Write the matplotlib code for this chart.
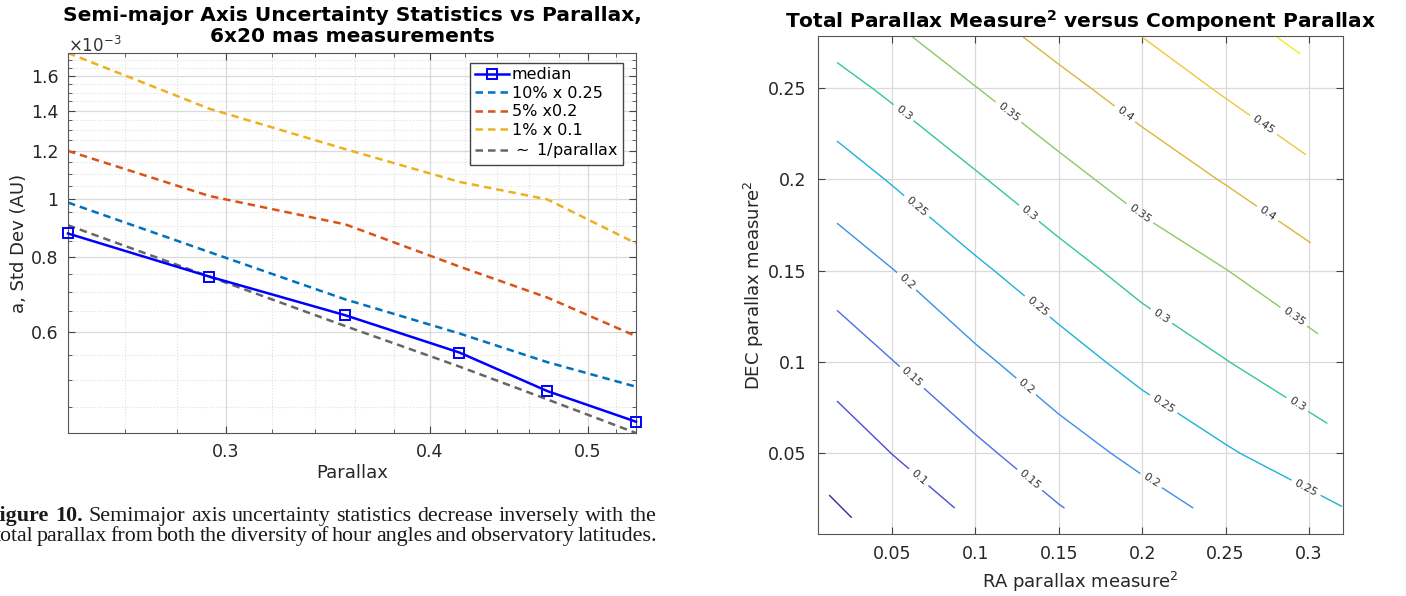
import numpy as np
import matplotlib.pyplot as plt
from matplotlib.ticker import FixedLocator, NullFormatter, FuncFormatter

# left panel: semi-major axis std dev, in units of 1e-3 AU
parallax = [0.240, 0.293, 0.355, 0.417, 0.472, 0.535]
median = [0.875, 0.742, 0.640, 0.555, 0.479, 0.426]
pct10 = [0.985, 0.815, 0.680, 0.597, 0.535, 0.487]
pct5 = [1.200, 1.010, 0.906, 0.771, 0.685, 0.591]
pct1 = [1.745, 1.410, 1.208, 1.066, 0.997, 0.843]
inv_parallax = [0.903, 0.742, 0.614, 0.526, 0.464, 0.408]
series_names = ['median', '10% x 0.25', '5% x0.2', '1% x 0.1', r'$\sim$ 1/parallax']
x_major = [0.3, 0.4, 0.5]
y_major = [0.6, 0.8, 1.0, 1.2, 1.4, 1.6]

# right panel: total parallax measure^2 on a grid of RA / DEC measure^2
ra_cols = [0.017, 0.05, 0.10, 0.15, 0.20, 0.25]
ra_right = [0.320, 0.313, 0.307, 0.302, 0.299, 0.296, 0.294]   # last column, per row
dec_rows = [0.020, 0.05, 0.10, 0.15, 0.20, 0.25, 0.278]
corner_node = (0.009, 0.011)                                   # lower-left grid node
total_sq = [
    [0.0350, 0.0715, 0.1094, 0.1478, 0.1801, 0.2126, 0.249],
    [0.0713, 0.1005, 0.1396, 0.1784, 0.2129, 0.2447, 0.283],
    [0.1214, 0.1487, 0.1898, 0.2287, 0.2664, 0.2984, 0.335],
    [0.1719, 0.1985, 0.2411, 0.2804, 0.3185, 0.3489, 0.3835],
    [0.2258, 0.2536, 0.2944, 0.3341, 0.3708, 0.4032, 0.4376],
    [0.2833, 0.3093, 0.3488, 0.3864, 0.4216, 0.4558, 0.4834],
    [0.3165, 0.3404, 0.3792, 0.4155, 0.4500, 0.4813, 0.508],
]
levels = [0.05, 0.10, 0.15, 0.20, 0.25, 0.30, 0.35, 0.40, 0.45, 0.50]
level_colors = ['#3b2699', '#4b4cd6', '#4a6fe6', '#3a90e4', '#1db2d6',
                '#36c4a2', '#8cc964', '#dcb53c', '#f2c53a', '#f4ea22']
ra_ticks = [0.05, 0.10, 0.15, 0.20, 0.25, 0.30]
dec_ticks = [0.05, 0.10, 0.15, 0.20, 0.25]

caption1 = 'Figure 10. Semimajor axis uncertainty statistics decrease inversely with the'
caption2 = 'total parallax from both the diversity of hour angles and observatory latitudes.'

W, H = 1406, 596
fig = plt.figure(figsize=(W / 100, H / 100), dpi=100)
ax1 = fig.add_axes([68 / W, 1 - 433 / H, 568 / W, 380 / H])
ax2 = fig.add_axes([817.5 / W, 1 - 534 / H, 525.5 / W, 498 / H])

fmt_g = FuncFormatter(lambda v, p: '%g' % round(v, 3))
frame = '#555555'

# ---------------- left panel
ax1.set_xscale('log')
ax1.set_yscale('log')
dash = (0, (3, 2))
ax1.plot(parallax, median, '-s', color='#0000ff', lw=1.8, ms=7, mfc='none', mew=1.4,
         label=series_names[0], zorder=5, clip_on=False)
ax1.plot(parallax, pct10, ls=dash, color='#0072bd', lw=1.8, label=series_names[1])
ax1.plot(parallax, pct5, ls=dash, color='#d95319', lw=1.8, label=series_names[2])
ax1.plot(parallax, pct1, ls=dash, color='#edb120', lw=1.8, label=series_names[3])
ax1.plot(parallax, inv_parallax, ls=dash, color='#666666', lw=1.8, label=series_names[4])

ax1.set_xlim(min(parallax), max(parallax))
ax1.set_ylim(min(inv_parallax), max(pct1))
ax1.xaxis.set_major_locator(FixedLocator(x_major))
ax1.xaxis.set_minor_locator(FixedLocator(np.arange(0.24, 0.54, 0.02)))
ax1.yaxis.set_major_locator(FixedLocator(y_major))
ax1.yaxis.set_minor_locator(FixedLocator(np.arange(0.40, 1.80, 0.05)))
for axis in (ax1.xaxis, ax1.yaxis):
    axis.set_major_formatter(fmt_g)
    axis.set_minor_formatter(NullFormatter())
ax1.grid(which='major', color='#dadada', lw=0.9)
ax1.grid(which='minor', color='#dedede', lw=0.8, ls=':')
ax1.set_axisbelow(True)
ax1.tick_params(which='both', direction='in', top=True, right=True, color='#444444',
                labelsize=12.5, labelcolor='#262626', pad=7)
ax1.tick_params(which='major', length=5)
ax1.tick_params(which='minor', length=3)
for s in ax1.spines.values():
    s.set_color(frame)
ax1.set_xlabel('Parallax', fontsize=13, color='#262626', labelpad=2)
ax1.set_ylabel('a, Std Dev (AU)', fontsize=13, color='#262626', labelpad=2)
ax1.set_title('Semi-major Axis Uncertainty Statistics vs Parallax,\n6x20 mas measurements',
              fontsize=14.5, fontweight='bold', pad=8, linespacing=1.12)
ax1.text(0, 0.992, r'$\times10^{-3}$', transform=ax1.transAxes, fontsize=12,
         color='#333333', va='bottom', ha='left')
leg = ax1.legend(loc='upper right', bbox_to_anchor=(0.977, 0.975), borderaxespad=0,
                 fontsize=11.5, handlelength=2.1, handletextpad=0.2, labelspacing=0.22,
                 borderpad=0.3, fancybox=False, framealpha=1)
leg.get_frame().set_edgecolor('#444444')
leg.get_frame().set_linewidth(1.0)

# ---------------- right panel
X = np.array([ra_cols + [r] for r in ra_right])
Y = np.repeat(np.array(dec_rows)[:, None], X.shape[1], axis=1)
X[0, 0], Y[0, 0] = corner_node
cs = ax2.contour(X, Y, np.array(total_sq), levels=levels, colors=level_colors, linewidths=1.0)
ax2.set_xlim(0.0053, 0.3204)
ax2.set_ylim(0.0058, 0.2786)

label_spots = [(0.0656, 0.0365),
               (0.0584, 0.088), (0.1315, 0.0343),
               (0.0578, 0.1433), (0.1297, 0.0858), (0.2095, 0.0409),
               (0.062, 0.1823), (0.1363, 0.1296), (0.2125, 0.0765), (0.2976, 0.030),
               (0.0572, 0.2369), (0.1327, 0.1822), (0.2107, 0.1241), (0.2928, 0.0765),
               (0.1207, 0.2380), (0.1987, 0.1816), (0.2958, 0.1313),
               (0.1849, 0.2303), (0.2754, 0.1816),
               (0.2706, 0.2271)]
ax2.clabel(cs, manual=label_spots, inline=True, fontsize=8,
           fmt='%g', colors='#333333', inline_spacing=4)

ax2.set_xticks(ra_ticks)
ax2.set_yticks(dec_ticks)
ax2.xaxis.set_major_formatter(fmt_g)
ax2.yaxis.set_major_formatter(fmt_g)
ax2.grid(color='#dadada', lw=0.9)
ax2.set_axisbelow(True)
ax2.tick_params(direction='in', top=True, right=True, length=5, color='#444444',
                labelsize=12.5, labelcolor='#262626', pad=8)
for s in ax2.spines.values():
    s.set_color(frame)
ax2.set_xlabel('RA parallax measure$^2$', fontsize=13, color='#262626', labelpad=5)
ax2.set_ylabel('DEC parallax measure$^2$', fontsize=13, color='#262626', labelpad=1)
ax2.set_title(r'Total Parallax Measure$^\mathbf{2}$ versus Component Parallax',
              fontsize=14.5, fontweight='bold', pad=6)

# ---------------- caption under the left panel (justified)
renderer = fig.canvas.get_renderer()


def justify(text, nbold, x0, x1, ybase, size):
    words = text.split()
    items = [fig.text(0, 1 - ybase / H, w, fontsize=size, family='Liberation Serif',
                      weight='bold' if i < nbold else 'normal', color='#1a1a1a')
             for i, w in enumerate(words)]
    widths = [t.get_window_extent(renderer).width for t in items]
    gap = (x1 - x0 - sum(widths)) / (len(items) - 1)
    x = x0
    for t, w in zip(items, widths):
        t.set_x(x / W)
        x += w + gap


probe = fig.text(0, 0, caption2, fontsize=14, family='Liberation Serif')
cap_size = 1.04 * 14 * 662 / probe.get_window_extent(renderer).width
probe.remove()
justify(caption1, 2, -13, 657, 521, cap_size)
justify(caption2, 0, -5, 657, 541, cap_size)

fig.savefig('out.png', dpi=100)
